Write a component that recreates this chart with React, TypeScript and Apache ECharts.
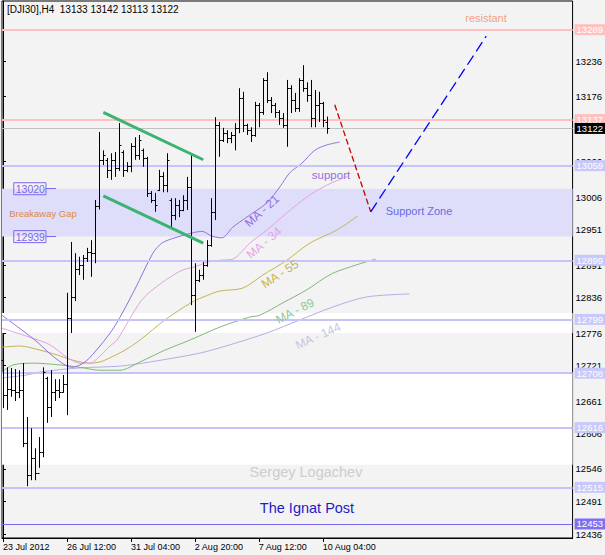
import React, { useEffect, useRef } from 'react';
import * as echarts from 'echarts';

const FONT = '"Liberation Sans", Arial, sans-serif';

// H4 bars of DJI30 (index 0 = 23 Jul 2012 00:00)
const barOpen = [12730,12671,12681,12680,12676,12680,12590,12536,12565,12539,12575,12700,12651,12676,12680,12676,12690,12801,12837,12884,12891,12903,12913,12911,12991,13069,13069,13052,13069,13055,13082,13052,13058,13092,13077,13085,13072,13013,13001,13018,13041,13026,13001,12976,12992,12984,13001,13023,12840,12866,12874,12891,12925,12981,13128,13102,13114,13106,13111,13123,13173,13128,13119,13111,13162,13150,13204,13170,13162,13150,13140,13128,13190,13170,13157,13204,13190,13178,13140,13162,13165,13133];
const barHigh = [12744,12718,12717,12715,12713,12725,12634,12615,12581,12600,12718,12702,12713,12698,12698,12705,12844,12930,12911,12905,12908,12920,12933,13001,13116,13085,13072,13080,13082,13131,13085,13065,13097,13107,13111,13088,13074,13016,13013,13052,13048,13080,13004,13004,13001,13009,13040,13080,12894,12883,12896,12933,13004,13141,13133,13123,13119,13116,13131,13190,13184,13130,13124,13167,13165,13207,13217,13175,13165,13153,13148,13204,13195,13182,13207,13229,13200,13204,13187,13184,13167,13142];
const barLow = [12649,12646,12668,12661,12666,12583,12517,12527,12527,12548,12566,12624,12634,12661,12666,12675,12637,12776,12830,12874,12866,12896,12871,12894,12985,13060,13038,13035,13040,13050,13040,13048,13048,13069,13069,13057,13006,12996,12981,13016,13014,13014,12954,12967,12972,12982,12984,12823,12778,12862,12866,12888,12922,12967,13074,13099,13097,13097,13085,13114,13116,13111,13099,13108,13124,13145,13165,13148,13140,13128,13123,13091,13148,13150,13150,13184,13167,13124,13124,13133,13124,13113];
const barClose = [12671,12681,12680,12676,12680,12590,12536,12565,12539,12575,12710,12651,12676,12680,12676,12690,12801,12837,12884,12891,12903,12913,12911,12991,13069,13077,13052,13069,13055,13094,13052,13058,13092,13077,13102,13072,13013,13001,12992,13041,13026,13069,12976,12992,12984,13001,13023,12840,12866,12874,12891,12925,12981,13128,13102,13114,13106,13111,13123,13173,13128,13119,13111,13162,13150,13204,13170,13162,13150,13140,13128,13190,13170,13157,13204,13190,13178,13140,13162,13165,13136,13122];

// time axis labels (bar index -> label)
const timeTickIdx = [0, 16, 32, 48, 64, 80];
const timeLabels = ['23 Jul 2012', '26 Jul 12:00', '31 Jul 04:00', '2 Aug 20:00', '7 Aug 12:00', '10 Aug 04:00'];

// price axis tick labels
const priceTicks = [13236, 13176, 13066, 13006, 12951, 12891, 12836, 12776, 12721, 12661, 12606, 12546, 12491, 12436];

// horizontal levels
const resistLevels = [13289, 13137];
const supportLevels = [13059, 12899, 12799, 12708, 12616, 12515];
const lastPrice = 13122;
const bottomLevel = 12453;
const gapZone = [12939, 13020];
const whiteBands = [[12776, 12810], [12553, 12708]];

// moving averages: [bar index, price]
const ma21 = [[-0.25,12806],[8,12764],[13,12734],[17.25,12718],[20.5,12727],[24.25,12754],[28,12788],[33,12850],[37.5,12911],[39.75,12928],[43,12937],[47.25,12945],[49.75,12948],[52.25,12940],[54.75,12937],[57.5,12955],[61,12972],[66,12996],[69.25,13023],[71.75,13047],[74.75,13063],[78,13085],[81,13094],[84.25,13099]];
const ma34 = [[-0.25,12784],[7.5,12767],[11.75,12756],[16,12735],[19.25,12725],[21.75,12725],[24.25,12737],[26.75,12754],[28.5,12764],[34.75,12832],[39.75,12861],[44.75,12882],[48,12888],[51.25,12896],[54.25,12899],[57.5,12901],[61.75,12928],[66,12950],[71,12979],[76,13006],[81,13026],[86.25,13041]];
const ma55 = [[-0.25,12752],[4.25,12754],[9.25,12747],[13.5,12739],[17.5,12730],[21.75,12725],[24.25,12727],[26.75,12734],[30.5,12747],[34.25,12764],[40.5,12798],[47.25,12828],[51.25,12840],[54.25,12847],[60,12852],[65,12874],[71,12899],[76.75,12928],[83.5,12950],[88.75,12974]];
const ma89 = [[-0.25,12710],[2.5,12722],[7.5,12725],[14.25,12722],[19.25,12718],[24.25,12713],[29.25,12713],[34.25,12727],[40.5,12747],[46.75,12764],[54.25,12786],[61.75,12803],[64.25,12806],[70,12827],[76,12849],[82.5,12877],[93.25,12901]];
const ma144 = [[-0.25,12700],[6,12705],[9.25,12710],[19.25,12717],[29.25,12720],[36.75,12727],[49.25,12742],[56.75,12756],[66,12776],[74.25,12798],[82.5,12820],[91,12837],[101.75,12842]];

// drawn objects: channel and forecast
const channelUpper = [[25.1, 13149], [50.1, 13069]];
const channelLower = [[25.1, 13008], [50.1, 12928]];
const forecastDown = [[83, 13162], [92, 12981]];
const forecastUp = [[92, 12981], [120.9, 13278]];

const levelLabel = (text: string, bg: string) => ({
  show: true,
  position: 'end',
  distance: 2,
  formatter: text,
  color: '#ffffff',
  backgroundColor: bg,
  padding: [1, 2, 0, 2],
  fontSize: 9.5,
  fontFamily: FONT,
});

export default function App() {
  const ref = useRef<HTMLDivElement>(null);
  useEffect(() => {
    document.body.style.margin = '0';
    const chart = echarts.init(ref.current!, null, { renderer: 'svg' });
    const ohlc = barOpen.map((o, i) => [i, o, barHigh[i], barLow[i], barClose[i]]);

    const levelLines: any[] = [];
    resistLevels.forEach((v) =>
      levelLines.push({ yAxis: v, lineStyle: { color: '#ffc0c0', width: 2, type: 'solid' }, label: levelLabel(String(v), '#ffc0c0') })
    );
    supportLevels.forEach((v) =>
      levelLines.push({ yAxis: v, lineStyle: { color: '#c4c4fa', width: 2, type: 'solid' }, label: levelLabel(String(v), '#c8c8fa') })
    );
    levelLines.push({ yAxis: lastPrice, lineStyle: { color: '#c0c0c0', width: 1, type: 'solid' }, label: levelLabel(String(lastPrice), '#000000') });
    levelLines.push({ yAxis: bottomLevel, lineStyle: { color: '#7b68ee', width: 1, type: 'solid' }, label: levelLabel(String(bottomLevel), '#8070f0') });
    const zoneTagLines = gapZone.map((v) => [
      {
        coord: [10.75, v],
        lineStyle: { color: '#7b68ee', width: 1, type: 'solid' },
        label: {
          show: true, position: 'start', distance: 0, formatter: String(v), color: '#7b68ee',
          borderColor: '#7b68ee', borderWidth: 1, padding: [1, 1, 0, 2], fontSize: 10.5, fontFamily: FONT,
        },
      },
      { coord: [13.25, v] },
    ]);

    const maSeries = (data: number[][], color: string) => ({
      type: 'line', data, showSymbol: false, smooth: 0.3, silent: true, z: 3,
      lineStyle: { color, width: 1 },
    });
    const seg = (data: number[][], color: string, width: number, type: any) => ({
      type: 'line', data, showSymbol: false, silent: true, z: 6,
      lineStyle: { color, width, type },
    });

    const txt = (text: string, x: number, y: number, fill: string, size: number, rot = 0) => ({
      type: 'text', x, y, rotation: (rot * Math.PI) / 180, silent: true, z: 100,
      style: { text, fill, font: `${size}px ${FONT}`, textAlign: 'center', textVerticalAlign: 'middle', align: 'center', verticalAlign: 'middle' },
    });

    chart.setOption({
      animation: false,
      backgroundColor: '#f3f3f3',
      grid: { left: 2, right: 32, top: 1, bottom: 17, show: true, backgroundColor: '#f3f3f3', borderColor: '#000', borderWidth: 1 },
      xAxis: {
        type: 'value', min: -0.25, max: 142.5,
        axisLine: { show: true, onZero: false, lineStyle: { color: '#000' } },
        axisTick: { show: true, customValues: timeTickIdx, length: 4, lineStyle: { color: '#000' } },
        axisLabel: {
          customValues: timeTickIdx, align: 'left', margin: 4, fontSize: 9, color: '#000', fontFamily: FONT,
          formatter: (v: number) => { const k = timeTickIdx.indexOf(v); return k >= 0 ? timeLabels[k] : ''; },
        },
        splitLine: { show: false },
      },
      yAxis: {
        type: 'value', position: 'right', min: 12429.3, max: 13337.5,
        axisLine: { show: true, lineStyle: { color: '#000' } },
        axisTick: { show: true, customValues: priceTicks, length: 3, lineStyle: { color: '#000' } },
        axisLabel: { customValues: priceTicks, margin: 3, fontSize: 9.5, color: '#000', fontFamily: FONT, formatter: (v: number) => String(v) },
        splitLine: { show: false },
      },
      series: [
        {
          type: 'line', data: [], z: 1, silent: true,
          markArea: {
            silent: true,
            data: [
              ...whiteBands.map((b) => [{ yAxis: b[0], itemStyle: { color: '#ffffff' } }, { yAxis: b[1] }]),
              [{ yAxis: gapZone[0], itemStyle: { color: '#dedefa' } }, { yAxis: gapZone[1] }],
            ],
          },
        },
        {
          type: 'line', data: [], z: 2, silent: true,
          markLine: { silent: true, symbol: ['none', 'none'], animation: false, data: [...levelLines, ...zoneTagLines] },
        },
        maSeries(ma144, '#b4aee6'),
        maSeries(ma89, '#80b878'),
        maSeries(ma55, '#c4b454'),
        maSeries(ma34, '#e4a0e4'),
        maSeries(ma21, '#9370db'),
        seg(channelUpper, '#3cb371', 3, 'solid'),
        seg(channelLower, '#3cb371', 3, 'solid'),
        {
          type: 'custom', data: ohlc, z: 5, silent: true,
          encode: { x: 0, y: [2, 3] },
          renderItem: (params: any, api: any) => {
            const i = api.value(0);
            const h = api.coord([i, api.value(2)]);
            const l = api.coord([i, api.value(3)]);
            const o = api.coord([i, api.value(1)]);
            const c = api.coord([i, api.value(4)]);
            const x = Math.round(h[0]) + 0.5;
            const st = { stroke: '#000', lineWidth: 1 };
            return {
              type: 'group',
              children: [
                { type: 'line', shape: { x1: x, y1: h[1], x2: x, y2: l[1] }, style: st },
                { type: 'line', shape: { x1: x - 2, y1: Math.round(o[1]) + 0.5, x2: x, y2: Math.round(o[1]) + 0.5 }, style: st },
                { type: 'line', shape: { x1: x, y1: Math.round(c[1]) + 0.5, x2: x + 2, y2: Math.round(c[1]) + 0.5 }, style: st },
              ],
            };
          },
        },
        seg(forecastDown, '#cc0000', 1.3, [6, 3]),
        seg(forecastUp, '#0000ff', 1.3, [11, 5]),
      ],
      graphic: [
        { type: 'text', left: 7, top: 4, silent: true, z: 100, style: { text: '[DJI30],H4  13133 13142 13113 13122', fill: '#000', font: `10px ${FONT}` } },
        txt('resistant', 486, 18, '#f4a282', 11),
        txt('support', 331, 175, '#9370db', 11.5),
        txt('Support Zone', 419, 211, '#6a6ae6', 11),
        txt('Breakaway Gap', 43, 213, '#e08844', 9.5),
        txt('Sergey Logachev', 306, 472, '#cdcdcd', 14.5),
        txt('The Ignat Post', 307, 508, '#1c1cc8', 14.5),
        txt('MA - 21', 262, 211, '#9370db', 12, 42),
        txt('MA - 34', 264, 243, '#e6a2e6', 12, 40),
        txt('MA - 55', 280, 274, '#c8b44a', 12, 33),
        txt('MA - 89', 295, 311, '#8cc89a', 12, 27),
        txt('MA - 144', 318, 336, '#c6c6e2', 12, 24),
      ],
    });
    return () => chart.dispose();
  }, []);
  return <div ref={ref} style={{ width: 605, height: 555 }} />;
}
